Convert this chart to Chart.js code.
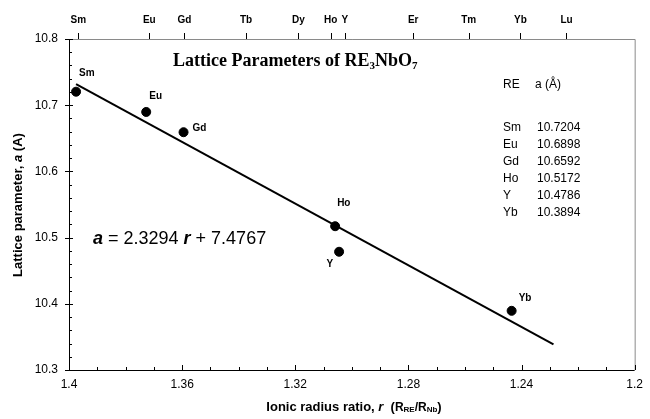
<!DOCTYPE html>
<html>
<head>
<meta charset="utf-8">
<script src="https://cdn.jsdelivr.net/npm/chart.js@4.4.1/dist/chart.umd.min.js"></script>
<style>
html, body { margin: 0; padding: 0; background: #fff; }
</style>
</head>
<body>
<canvas id="chartRed" width="650" height="419"></canvas>
<script>
const elementos = ['Sm', 'Eu', 'Gd', 'Ho', 'Y', 'Yb'];
const radioIonico = [1.3975, 1.3727, 1.3595, 1.3059, 1.3045, 1.2435];
const parametroRed = [10.7204, 10.6898, 10.6592, 10.5172, 10.4786, 10.3894];

// extremos de la recta de ajuste
const ajusteR = [1.3975, 1.2287];
const ajusteA = [10.7320, 10.3388];

// eje superior
const nombresSup = ['Sm', 'Eu', 'Gd', 'Tb', 'Dy', 'Ho', 'Y', 'Er', 'Tm', 'Yb', 'Lu'];
const radiosSup = [1.3967, 1.3716, 1.3592, 1.3374, 1.3189, 1.3075, 1.3025, 1.2783, 1.2587, 1.2404, 1.2241];

const SANS = "'Liberation Sans', Arial, sans-serif";
const SERIF = "'Liberation Serif', 'Times New Roman', serif";

function textoRico(ctx, partes, x, y, align) {
    let ancho = 0;
    partes.forEach(p => { ctx.font = p.f; ancho += ctx.measureText(p.t).width; });
    let cx = align === 'center' ? x - ancho / 2 : x;
    partes.forEach(p => {
        ctx.font = p.f;
        ctx.fillText(p.t, cx, y + (p.dy || 0));
        cx += ctx.measureText(p.t).width;
    });
}

const etiquetasPuntos = {
    Sm: [3, -16, 'left'],
    Eu: [3, -13, 'left'],
    Gd: [9, -1, 'left'],
    Ho: [2, -20, 'left'],
    Y: [-6, 15, 'right'],
    Yb: [7, -10, 'left']
};

const anotaciones = {
    id: 'anotaciones',
    afterDraw(chart) {
        const { ctx, chartArea: ca, scales } = chart;
        const x = scales.x, y = scales.y, xt = scales.xt;
        ctx.save();

        // marco
        ctx.lineWidth = 1;
        ctx.strokeStyle = '#8a8a8a';
        ctx.beginPath();
        ctx.moveTo(ca.left, ca.top + 0.5);
        ctx.lineTo(ca.right + 0.5, ca.top + 0.5);
        ctx.lineTo(ca.right + 0.5, ca.bottom);
        ctx.stroke();
        ctx.strokeStyle = '#000';
        ctx.beginPath();
        ctx.moveTo(ca.left + 0.5, ca.top);
        ctx.lineTo(ca.left + 0.5, ca.bottom + 0.5);
        ctx.lineTo(ca.right, ca.bottom + 0.5);
        ctx.stroke();

        // marcas eje x
        x.ticks.forEach(t => {
            const px = Math.round(x.getPixelForValue(t.value)) + 0.5;
            const mayor = Math.round(t.value * 100) % 4 === 0;
            ctx.beginPath();
            ctx.moveTo(px, ca.bottom);
            ctx.lineTo(px, ca.bottom - (mayor ? 5 : 3));
            ctx.stroke();
        });
        // marcas eje y
        y.ticks.forEach(t => {
            const py = Math.round(y.getPixelForValue(t.value)) + 0.5;
            const mayor = Math.round(t.value * 100) % 10 === 0;
            ctx.beginPath();
            ctx.moveTo(ca.left - (mayor ? 4 : 0), py);
            ctx.lineTo(ca.left + (mayor ? 4 : 3), py);
            ctx.stroke();
        });
        // marcas eje superior
        xt.ticks.forEach(t => {
            const px = Math.round(xt.getPixelForValue(t.value)) + 0.5;
            ctx.beginPath();
            ctx.moveTo(px, ca.top);
            ctx.lineTo(px, ca.top - 6);
            ctx.stroke();
        });

        ctx.fillStyle = '#000';
        ctx.textBaseline = 'alphabetic';

        // etiquetas de puntos
        ctx.font = 'bold 10px ' + SANS;
        elementos.forEach((el, i) => {
            const px = x.getPixelForValue(radioIonico[i]);
            const py = y.getPixelForValue(parametroRed[i]);
            const [dx, dy, al] = etiquetasPuntos[el];
            ctx.textAlign = al;
            ctx.fillText(el, px + dx, py + dy);
        });
        ctx.textAlign = 'left';

        // título
        const fT = 'bold 18px ' + SERIF, fS = 'bold 11px ' + SERIF;
        textoRico(ctx, [
            { t: 'Lattice Parameters of RE', f: fT },
            { t: '3', f: fS, dy: 3 },
            { t: 'NbO', f: fT },
            { t: '7', f: fS, dy: 3 }
        ], 173, 66, 'left');

        // ecuación
        const fE = '18px ' + SANS, fEi = 'italic bold 18px ' + SANS;
        textoRico(ctx, [
            { t: 'a', f: fEi },
            { t: ' = 2.3294 ', f: fE },
            { t: 'r', f: fEi },
            { t: ' + 7.4767', f: fE }
        ], 93, 244, 'left');

        // tabla
        ctx.font = '12px ' + SANS;
        ctx.fillText('RE', 503, 88);
        ctx.fillText('a (\u00c5)', 535, 88);
        elementos.forEach((el, i) => {
            const by = 131 + i * 17;
            ctx.fillText(el, 503, by);
            ctx.fillText(parametroRed[i].toFixed(4), 537, by);
        });

        // título eje x
        const fX = 'bold 13px ' + SANS, fXi = 'italic bold 13px ' + SANS;
        const fXs = 'bold 8px ' + SANS, fXr = 'bold 12px ' + SANS;
        textoRico(ctx, [
            { t: 'Ionic radius ratio, ', f: fX },
            { t: 'r', f: fXi },
            { t: '  (', f: fX },
            { t: 'R', f: fXr },
            { t: 'RE', f: fXs, dy: 1 },
            { t: '/R', f: fXr },
            { t: 'Nb', f: fXs, dy: 1 },
            { t: ')', f: fX }
        ], 354, 411, 'center');

        // título eje y
        ctx.translate(22, 205);
        ctx.rotate(-Math.PI / 2);
        textoRico(ctx, [
            { t: 'Lattice parameter, ', f: fX },
            { t: 'a', f: fXi },
            { t: ' (A)', f: fX }
        ], 0, 0, 'center');

        ctx.restore();
    }
};

new Chart(document.getElementById('chartRed'), {
    type: 'scatter',
    data: {
        datasets: [{
            type: 'line',
            data: ajusteR.map((r, i) => ({ x: r, y: ajusteA[i] })),
            borderColor: '#000',
            borderWidth: 2,
            pointRadius: 0,
            fill: false
        }, {
            data: radioIonico.map((r, i) => ({ x: r, y: parametroRed[i] })),
            backgroundColor: '#000',
            borderColor: '#000',
            pointRadius: 4.5,
            pointHoverRadius: 4.5
        }]
    },
    options: {
        responsive: false,
        animation: false,
        devicePixelRatio: 1,
        layout: { padding: { left: 0, right: 9, top: 0, bottom: 0 } },
        plugins: {
            legend: { display: false },
            tooltip: { enabled: false }
        },
        scales: {
            x: {
                type: 'linear',
                position: 'bottom',
                reverse: true,
                min: 1.2,
                max: 1.4,
                afterFit: s => { s.height = 49; },
                grid: { display: false, drawTicks: false },
                border: { display: false },
                ticks: {
                    stepSize: 0.01,
                    autoSkip: false,
                    maxRotation: 0,
                    padding: 7,
                    color: '#000',
                    font: { family: SANS, size: 12 },
                    callback: v => Math.round(v * 100) % 4 === 0 ? String(+v.toFixed(2)) : ''
                }
            },
            xt: {
                type: 'linear',
                position: 'top',
                reverse: true,
                min: 1.2,
                max: 1.4,
                afterFit: s => { s.height = 39; },
                afterBuildTicks: s => { s.ticks = radiosSup.map(v => ({ value: v })); },
                grid: { display: false, drawTicks: false },
                border: { display: false },
                ticks: {
                    autoSkip: false,
                    maxRotation: 0,
                    padding: 13,
                    color: '#000',
                    font: { family: SANS, size: 10, weight: 'bold' },
                    callback: v => nombresSup[radiosSup.indexOf(v)]
                }
            },
            y: {
                type: 'linear',
                min: 10.3,
                max: 10.8,
                afterFit: s => { s.width = 69; },
                grid: { display: false, drawTicks: false },
                border: { display: false },
                ticks: {
                    stepSize: 0.02,
                    autoSkip: false,
                    padding: 11,
                    color: '#000',
                    font: { family: SANS, size: 12 },
                    callback: v => Math.round(v * 100) % 10 === 0 ? v.toFixed(1) : ''
                }
            }
        }
    },
    plugins: [anotaciones]
});
</script>
</body>
</html>
